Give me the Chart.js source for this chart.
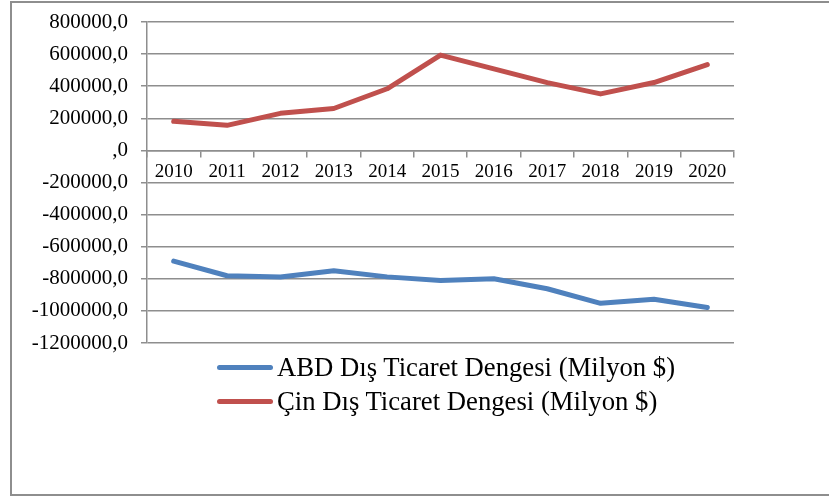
<!DOCTYPE html>
<html lang="tr">
<head>
<meta charset="utf-8">
<title>ABD ve Çin Dış Ticaret Dengesi</title>
<script src="https://cdn.jsdelivr.net/npm/chart.js@4/dist/chart.umd.min.js"></script>
<style>
    body { margin: 0; background: #fff; }
    #kutu {
        position: relative;
        width: 829px;
        height: 497px;
        overflow: hidden;
    }
    #cerceve {
        position: absolute;
        left: 10px;
        top: 1px;
        width: 840px;
        height: 495px;
        border: 2px solid #8e8e8e;
        box-sizing: border-box;
    }
    #grafik { position: absolute; left: 0; top: 0; }
    #lejant {
        position: absolute;
        left: 217px;
        top: 350px;
        font-family: 'Liberation Serif', 'Times New Roman', serif;
        font-size: 26.7px;
        color: #000;
    }
    .lejant-satir {
        display: flex;
        align-items: center;
        height: 34px;
    }
    .lejant-cizgi {
        display: inline-block;
        width: 56px;
        height: 5px;
        border-radius: 3px;
        margin-right: 4px;
    }
</style>
</head>
<body>
<div id="kutu">
    <div id="cerceve"></div>
    <canvas id="grafik" width="829" height="497"></canvas>
    <div id="lejant"></div>
</div>

<script>
// Veriler (Milyon $)
const yillar = ['2010', '2011', '2012', '2013', '2014', '2015', '2016', '2017', '2018', '2019', '2020'];
const abdDengesi = [-690000, -781000, -789000, -750000, -788000, -810000, -800000, -862000, -953000, -927000, -979000];
const cinDengesi = [181000, 156000, 231000, 261000, 384000, 594000, 508000, 422000, 352000, 423000, 535000];

const seriAdlari = ['ABD Dış Ticaret Dengesi (Milyon $)', 'Çin Dış Ticaret Dengesi (Milyon $)'];

const eksenMin = -1200000;
const eksenMax = 800000;
const eksenAdim = 200000;

const griRenk = '#8e8e8e';

function yEtiketi(deger) {
    // Excel tarzı: 0 -> ",0"
    if (deger === 0) return ',0';
    return deger + ',0';
}

const grafik = new Chart(document.getElementById('grafik'), {
    type: 'line',
    data: {
        labels: yillar,
        datasets: [
            {
                label: seriAdlari[0],
                data: abdDengesi,
                borderColor: '#4F81BD',
                backgroundColor: '#4F81BD',
                borderWidth: 5,
                pointRadius: 0,
                tension: 0,
                borderCapStyle: 'round',
                borderJoinStyle: 'round'
            },
            {
                label: seriAdlari[1],
                data: cinDengesi,
                borderColor: '#C0504D',
                backgroundColor: '#C0504D',
                borderWidth: 5,
                pointRadius: 0,
                tension: 0,
                borderCapStyle: 'round',
                borderJoinStyle: 'round'
            }
        ]
    },
    options: {
        responsive: false,
        animation: false,
        devicePixelRatio: 1,
        layout: {
            padding: { left: 0, top: 22, right: 95, bottom: 154 }
        },
        plugins: {
            legend: { display: false },
            tooltip: { enabled: false }
        },
        scales: {
            x: {
                position: { y: 0 },
                offset: true,
                grid: {
                    display: true,
                    offset: true,
                    drawOnChartArea: false,
                    drawTicks: true,
                    tickLength: 6,
                    color: griRenk,
                    lineWidth: 1.5
                },
                border: { display: true, color: griRenk, width: 1.5 },
                ticks: {
                    color: '#000',
                    font: { family: "'Liberation Serif', 'Times New Roman', serif", size: 19 },
                    padding: 4,
                    maxRotation: 0,
                    autoSkip: false
                }
            },
            y: {
                min: eksenMin,
                max: eksenMax,
                afterFit: (eksen) => {
                    eksen.width = 147;
                    // tick padding üst/alt boşluğa eklenmesin
                    eksen.paddingTop = 12;
                    eksen.paddingBottom = 12;
                },
                grid: {
                    color: griRenk,
                    lineWidth: 1.5,
                    drawTicks: true,
                    tickLength: 6
                },
                border: { display: true, color: griRenk, width: 1.5 },
                ticks: {
                    stepSize: eksenAdim,
                    color: '#000',
                    font: { family: "'Liberation Serif', 'Times New Roman', serif", size: 21 },
                    padding: 13,
                    callback: (deger) => yEtiketi(deger)
                }
            }
        }
    }
});

// HTML lejant
function lejantOlustur(chart) {
    const kap = document.getElementById('lejant');
    kap.innerHTML = '';
    chart.data.datasets.forEach(ds => {
        const satir = document.createElement('div');
        satir.className = 'lejant-satir';
        satir.innerHTML = `
            <span class="lejant-cizgi" style="background:${ds.borderColor}"></span>
            <span>${ds.label}</span>
        `;
        kap.appendChild(satir);
    });
}

lejantOlustur(grafik);
</script>
</body>
</html>
